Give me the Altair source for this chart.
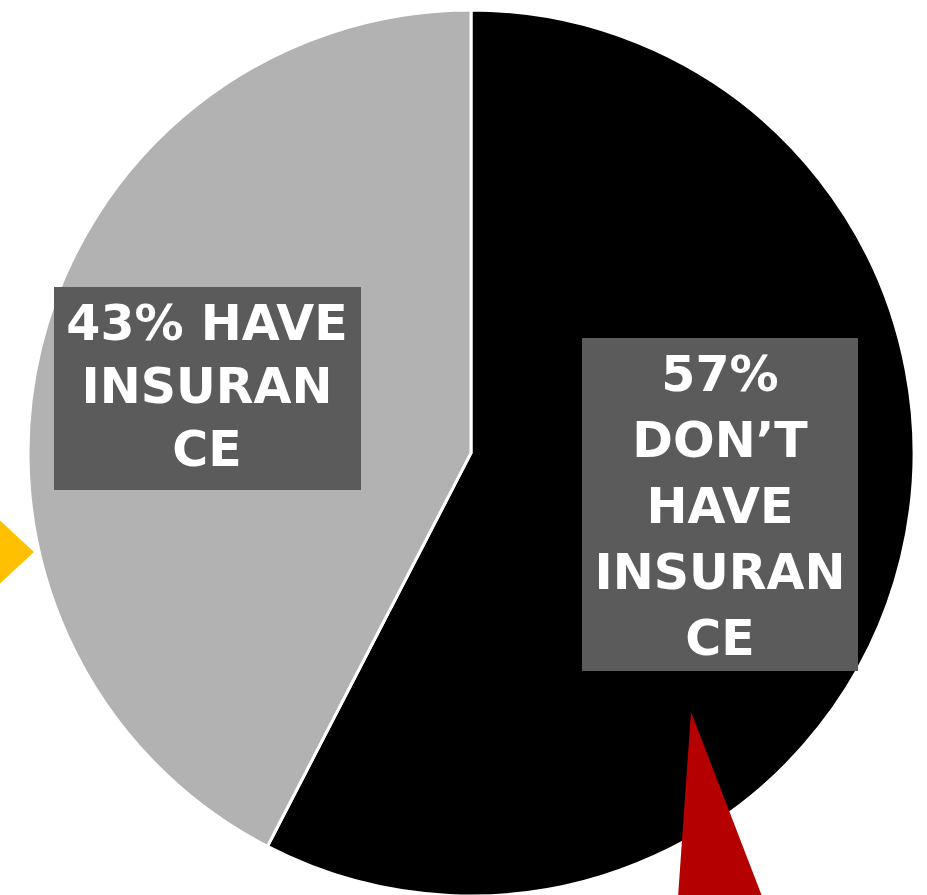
import altair as alt
import pandas as pd

# Data (slice sizes read from the drawn wedge; labels as printed)
categories = ["Don't have insurance", "Have insurance"]
shares = [57.6, 42.4]
slice_colors = ["#000000", "#b2b2b2"]
label_texts = ["57%\nDON\u2019T\nHAVE\nINSURAN\nCE", "43% HAVE\nINSURAN\nCE"]

pie_df = pd.DataFrame({"category": categories, "share": shares, "order": [0, 1]})

W, H = 927, 895
CX, CY, R = 471, 453, 443

pie = alt.Chart(pie_df).mark_arc(stroke="white", strokeWidth=3, radius=R).encode(
    theta=alt.Theta("share:Q", stack=True),
    order=alt.Order("order:Q"),
    color=alt.Color("category:N", scale=alt.Scale(domain=categories, range=slice_colors), legend=None),
    x=alt.value(CX),
    y=alt.value(CY),
)

# label boxes (right: 57%, left: 43%)
box_df = pd.DataFrame({"category": categories})
box_right = alt.Chart(box_df.iloc[[0]]).mark_rect(color="#5b5b5b").encode(
    x=alt.value(582), x2=alt.value(858), y=alt.value(338), y2=alt.value(671)
)
box_left = alt.Chart(box_df.iloc[[1]]).mark_rect(color="#5b5b5b").encode(
    x=alt.value(54), x2=alt.value(361), y=alt.value(287), y2=alt.value(490)
)

text_style = dict(font="DejaVu Sans", fontWeight="bold", fontSize=49, color="white",
                  lineBreak="\n", align="center", baseline="middle")

txt_right = alt.Chart(pd.DataFrame({"t": [label_texts[0]]})).mark_text(lineHeight=66, **text_style).encode(
    text="t:N", x=alt.value(720), y=alt.value(376)
)
txt_left = alt.Chart(pd.DataFrame({"t": [label_texts[1]]})).mark_text(lineHeight=63, **text_style).encode(
    text="t:N", x=alt.value(207), y=alt.value(325)
)

# decorations: yellow arrow at left, red spike at bottom
deco_df = pd.DataFrame({"d": [0]})
yellow = alt.Chart(deco_df).mark_point(
    shape="M-1,-1.85L1,0L-1,1.85Z", filled=True, color="#ffc000", opacity=1, size=1156
).encode(x=alt.value(17), y=alt.value(552))
red = alt.Chart(deco_df).mark_point(
    shape="M0,-1L0.77,1L-0.14,1Z", filled=True, color="#b50000", opacity=1, size=34000
).encode(x=alt.value(691), y=alt.value(804))

chart = alt.layer(pie, box_left, box_right, txt_left, txt_right, yellow, red).properties(
    width=W, height=H, autosize=alt.AutoSizeParams(type="none"), padding=0
).configure_view(stroke=None)

chart.save("out.html", embed_options={"renderer": "svg", "actions": False})
